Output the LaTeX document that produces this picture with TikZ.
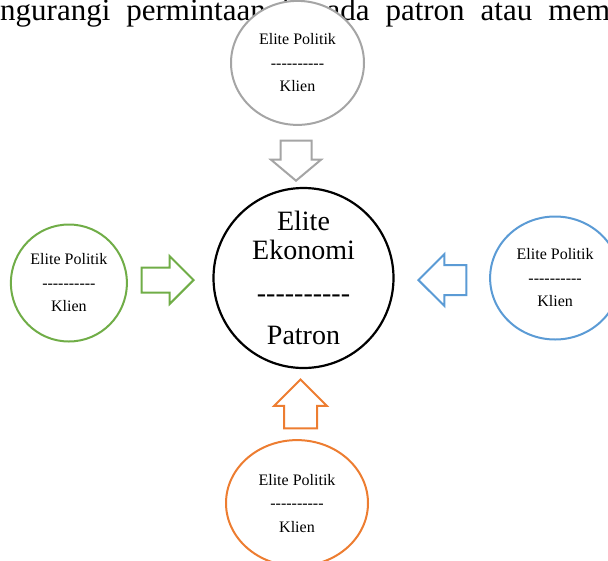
\documentclass[tikz,border=0pt]{standalone}
\usepackage{fontspec}
\setmainfont{Liberation Serif}
\usetikzlibrary{positioning,shapes.geometric,shapes.arrows}

\definecolor{abu}{HTML}{A5A5A5}
\definecolor{hijau}{HTML}{70AD47}
\definecolor{biru}{HTML}{5B9BD5}
\definecolor{oranye}{HTML}{ED7D31}

\newcommand{\garis}{\foreach \i in {1,...,10}{-}}

\begin{document}
\begin{tikzpicture}[x=1pt,y=-1pt,
    klien/.style={ellipse,draw=#1,line width=2pt,fill=white,inner sep=0pt,align=center,font=\fontsize{16}{23.5}\selectfont},
    panah/.style={single arrow,draw=#1,line width=2pt,fill=white,inner xsep=0pt,anchor=tip,single arrow tip angle=90}]
        \clip (0,0) rectangle (608,560);
        \node (kalimat) [anchor=base west,inner sep=0pt,font=\fontsize{31}{33}\selectfont] at (0,20) {\makebox[610pt][s]{ngurangi permintaan kepada patron atau mem}};

        \node[circle,draw,line width=2.2pt,minimum size=180pt,inner sep=0pt,align=center,font=\fontsize{28}{29}\selectfont] (patron) at (303.5,278) {Elite\\Ekonomi\\[14pt]\garis\\[13pt]Patron};
        \node[klien=abu,minimum width=133pt,minimum height=124pt] (atas) [above=61pt of patron,xshift=-6pt] {Elite Politik\\\garis\\Klien};
        \node[klien=hijau,minimum width=116pt,minimum height=117pt] (kiri) [left=84.5pt of patron,yshift=-5pt] {Elite Politik\\\garis\\Klien};
        \node[klien=biru,minimum width=130pt,minimum height=123pt] (kanan) [right=94.5pt of patron] {Elite Politik\\\garis\\Klien};
        \node[klien=oranye,minimum width=142pt,minimum height=126pt] (bawah) [below=70pt of patron,xshift=-6.5pt] {Elite Politik\\\garis\\Klien};

        \node[panah=abu,rotate=-90,inner ysep=14.5pt,single arrow head extend=9.5pt,single arrow tip angle=100,minimum height=40pt] (panahatas) at (296,182) {};
        \node[panah=hijau,inner ysep=11.5pt,single arrow head extend=11.5pt,minimum height=52pt] (panahkiri) at (195,280) {};
        \node[panah=biru,rotate=180,inner ysep=14pt,single arrow head extend=11pt,minimum height=48pt] (panahkanan) at (417,280) {};
        \node[panah=oranye,rotate=90,inner ysep=15.5pt,single arrow head extend=10pt,minimum height=49pt] (panahbawah) at (300.5,378) {};
\end{tikzpicture}
\end{document}
